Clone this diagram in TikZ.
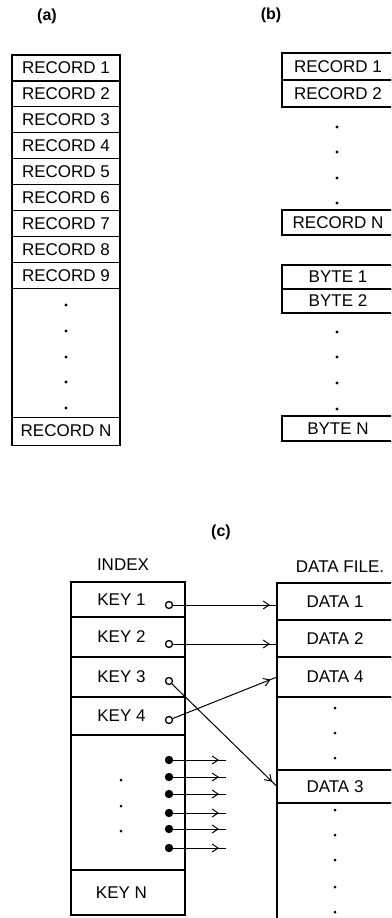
\documentclass[tikz,border=0pt]{standalone}
\usepackage{fontspec}
\setmainfont{Liberation Sans}
\usetikzlibrary{arrows.meta,positioning,calc,decorations.markings}
\tikzset{
  cell/.style={draw, line width=1.2pt, inner sep=0pt, outer sep=0pt, font=\fontsize{17}{17}\selectfont},
  caption/.style={font=\bfseries\fontsize{16}{16}\selectfont},
  heading/.style={font=\fontsize{17}{17}\selectfont},
  keytext/.style={font=\fontsize{17}{17}\selectfont, xshift=-6.5pt},
  port/.style={circle, draw, line width=1.3pt, inner sep=0pt, minimum size=7pt},
  fanport/.style={port, fill=black},
  link/.style={line width=1pt, postaction={decorate},
    decoration={markings, mark=at position -7pt with {\arrow{Straight Barb[length=6pt,width=8pt,line width=1pt]}}}}
}
\begin{document}
\begin{tikzpicture}[x=1pt, y=-1pt]
    \useasboundingbox (0,0) rectangle (391,918);
    \clip (0,0) rectangle (391,918);

    % (a) fixed records
    \node[caption] (capa) at (47,16) {(a)};
    \foreach \i in {1,...,9}
      \node[cell, minimum width=108pt, minimum height=25.9pt] (a\i) at (66,{55+25.9*(\i-0.5)}) {RECORD \i};
    \node[cell, minimum width=108pt, minimum height=129pt, anchor=north] (agap) at (a9.south) {};
    \node[cell, minimum width=108pt, minimum height=28pt, anchor=north] (aN) at (agap.south) {RECORD N};
    \foreach \y in {305,331,357,382,408} \fill (66,\y) circle (1.7pt);

    % (b) records and bytes
    \node[caption] (capb) at (271,15) {(b)};
    \node[cell, minimum width=112pt, minimum height=27pt] (b1) at (338,66.5) {RECORD 1};
    \node[cell, minimum width=112pt, minimum height=27pt, anchor=north] (b2) at (b1.south) {RECORD 2};
    \node[cell, minimum width=112pt, minimum height=25pt] (bN) at (338,222.5) {RECORD N};
    \node[cell, minimum width=112pt, minimum height=24pt] (by1) at (338,277) {BYTE 1};
    \node[cell, minimum width=112pt, minimum height=24pt, anchor=north] (by2) at (by1.south) {BYTE 2};
    \node[cell, minimum width=112pt, minimum height=25pt] (byN) at (338,428.5) {BYTE N};
    \foreach \y in {127,152,178,203,332,357,383,409} \fill (337,\y) circle (1.7pt);

    % (c) index and data file
    \node[caption] (capc) at (221,532) {(c)};
    \node[heading] (index) at (123,565) {INDEX};
    \node[heading] (datafile) at (340,567) {DATA FILE.};

    \node[cell, minimum width=114pt, minimum height=35pt, label={[keytext]center:KEY 1}] (k1) at (128,599.5) {};
    \node[cell, minimum width=114pt, minimum height=40pt, anchor=north, label={[keytext]center:KEY 2}] (k2) at (k1.south) {};
    \node[cell, minimum width=114pt, minimum height=40pt, anchor=north, label={[keytext]center:KEY 3}] (k3) at (k2.south) {};
    \node[cell, minimum width=114pt, minimum height=38pt, anchor=north, label={[keytext]center:KEY 4}] (k4) at (k3.south) {};
    \node[cell, minimum width=114pt, minimum height=135pt, anchor=north] (kgap) at (k4.south) {};
    \node[cell, minimum width=114pt, minimum height=45pt, anchor=north, label={[keytext]center:KEY N}] (kN) at (kgap.south) {};
    \foreach \y in {780,806,831} \fill (121,\y) circle (1.5pt);

    \node[cell, minimum width=116pt, minimum height=37pt] (d1) at (335,601.5) {DATA 1};
    \node[cell, minimum width=116pt, minimum height=37pt, anchor=north] (d2) at (d1.south) {DATA 2};
    \node[cell, minimum width=116pt, minimum height=40pt, anchor=north] (d4) at (d2.south) {DATA 4};
    \node[cell, minimum width=116pt, minimum height=73pt, anchor=north] (dgap) at (d4.south) {};
    \node[cell, minimum width=116pt, minimum height=33pt, anchor=north] (d3) at (dgap.south) {DATA 3};
    \node[cell, minimum width=116pt, minimum height=127pt, anchor=north] (drest) at (d3.south) {};
    \foreach \y in {708,733,758,810,835,860,887,912} \fill (335,\y) circle (1.5pt);

    % Pointers
    \node[port] (p1) at (169,605) {};
    \node[port] (p2) at (169,644) {};
    \node[port] (p3) at (169,681) {};
    \node[port] (p4) at (169,720) {};
    \draw[link] (p1) -- (p1 -| d1.west);
    \draw[link] (p2) -- (p2 -| d2.west);
    \draw[link] (p3) -- (d3.west);
    \draw[link] (p4) -- (d4.west);

    \foreach \y [count=\n] in {760,777,794,813,829,848} {
      \node[fanport] (f\n) at (169,\y) {};
      \coordinate (fe\n) at (226,\y);
      \draw[link] (f\n) -- (fe\n);
    }
  \end{tikzpicture}
\end{document}
